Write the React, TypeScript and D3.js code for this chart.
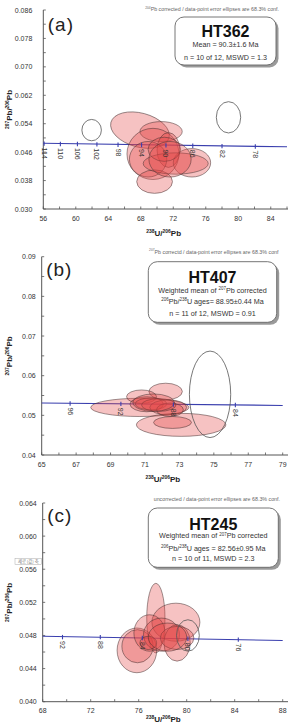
import React, { useEffect, useRef } from "react";
import * as d3 from "d3";

// ellipse rows: [238U/206Pb, 207Pb/206Pb, x half-axis, y half-axis, tilt deg]
const ht362Used = [
  [67.9, 0.0522, 3.7, 0.0048, 15],
  [70.5, 0.0518, 2.6, 0.0028, 0],
  [69.5, 0.0455, 3.2, 0.0072, 0],
  [71.4, 0.0466, 1.4, 0.0049, 0],
  [68.9, 0.044, 2.3, 0.005, 0],
  [69.7, 0.0377, 2.2, 0.0033, 0],
  [74.3, 0.043, 2.3, 0.004, 0],
  [72.3, 0.0428, 4.0, 0.003, 0],
  [70.9, 0.0468, 2.0, 0.0034, 0],
  [71.6, 0.044, 2.6, 0.005, 0],
];
const ht362Rejected = [
  [61.95, 0.0522, 1.2, 0.003, 0],
  [78.8, 0.0558, 1.5, 0.0044, 0],
];
const ht362Ages = [114, 110, 106, 102, 98, 94, 90, 86, 82, 78];
const ht362AgeX = [56.1, 58.1, 60.2, 62.6, 65.2, 68.1, 71.1, 74.4, 78.0, 82.1];
const ht362AgeY = [0.0484, 0.0483, 0.0483, 0.0482, 0.0481, 0.048, 0.0479, 0.0478, 0.0477, 0.0476];
const ht362Curve = [[56, 0.0485], [86, 0.0475]];
const ht362XTicks = [56, 60, 64, 68, 72, 76, 80, 84];
const ht362YTicks = [0.03, 0.038, 0.046, 0.054, 0.062, 0.07, 0.078, 0.086];

const ht407Used = [
  [70.7, 0.052, 2.85, 0.0023, 0],
  [73.1, 0.0476, 2.6, 0.0029, 0],
  [72.6, 0.0482, 1.1, 0.0015, 0],
  [72.2, 0.056, 0.97, 0.0021, 0],
  [70.8, 0.0547, 0.87, 0.0017, 0],
  [71.1, 0.0528, 0.97, 0.0019, 0],
  [71.35, 0.0529, 0.92, 0.0015, 0],
  [72.35, 0.052, 1.07, 0.0019, 0],
  [72.45, 0.0514, 0.78, 0.0017, 0],
  [71.8, 0.0526, 1.0, 0.0016, 0],
  [71.5, 0.0532, 1.2, 0.0022, 0],
];
const ht407Rejected = [[74.78, 0.0553, 1.2, 0.0109, 0]];
const ht407Ages = [96, 92, 88, 84];
const ht407AgeX = [66.65, 69.6, 72.65, 76.25];
const ht407AgeY = [0.053, 0.0529, 0.0527, 0.0526];
const ht407Curve = [[65, 0.0531], [79, 0.0525]];
const ht407XTicks = [65, 67, 69, 71, 73, 75, 77, 79];
const ht407YTicks = [0.04, 0.05, 0.06, 0.07, 0.08, 0.09];

const ht245Used = [
  [77.43, 0.0501, 0.76, 0.0042, 0],
  [79.1, 0.0496, 2.0, 0.0023, 0],
  [75.85, 0.0462, 1.65, 0.0027, 0],
  [75.9, 0.0467, 1.3, 0.002, 0],
  [76.9, 0.0483, 1.3, 0.0022, 0],
  [77.9, 0.0481, 1.5, 0.002, 0],
  [79.2, 0.0471, 1.1, 0.0022, 0],
  [79.2, 0.0477, 1.4, 0.0014, 0],
  [76.8, 0.0471, 0.7, 0.0008, 0],
  [78.4, 0.0478, 1.6, 0.0017, 0],
];
const ht245Rejected = [[80.1, 0.048, 0.95, 0.0019, 0]];
const ht245Ages = [92, 88, 84, 80, 76];
const ht245AgeX = [69.65, 72.8, 76.3, 80.1, 84.3];
const ht245AgeY = [0.0478, 0.0478, 0.0477, 0.0476, 0.0475];
const ht245Curve = [[68, 0.0479], [88, 0.0474]];
const ht245XTicks = [68, 72, 76, 80, 84, 88];
const ht245YTicks = [0.04, 0.044, 0.048, 0.052, 0.056, 0.06, 0.064];

// "^...^" marks superscript runs
const panels = [
  {
    tag: "(a)", name: "HT362",
    header: "^204^Pb corrected / data-point error ellipses are 68.3% conf.",
    lines: ["Mean = 90.3\u00b11.6 Ma", "n = 10 of 12, MSWD = 1.3"],
    used: ht362Used, rejected: ht362Rejected,
    ages: ht362Ages, ageX: ht362AgeX, ageY: ht362AgeY, curve: ht362Curve,
    xTicks: ht362XTicks, yTicks: ht362YTicks, xMinor: 2, yMinor: 0.004, yFmt: ".3f",
    xDom: [56, 86], yDom: [0.03, 0.086],
    left: 43.3, right: 287, top: 10, bottom: 209, yLabGap: 11,
    headerY: 11, headerX: 279, headerW: 147,
    tagY: 31, box: [175, 17, 101, 48], nameY: 37, lineY: [46.5, 60],
    xTitleY: 236,
  },
  {
    tag: "(b)", name: "HT407",
    header: "^207^Pb correctd / data-point error ellipses are 68.3% conf",
    lines: ["Weighted mean of ^207^Pb corrected", "^206^Pb/^238^U ages= 88.95\u00b10.44 Ma", "n = 11 of 12, MSWD = 0.91"],
    used: ht407Used, rejected: ht407Rejected,
    ages: ht407Ages, ageX: ht407AgeX, ageY: ht407AgeY, curve: ht407Curve,
    xTicks: ht407XTicks, yTicks: ht407YTicks, xMinor: 1, yMinor: 0.005, yFmt: ".2f",
    xDom: [65, 79], yDom: [0.04, 0.09],
    left: 41.7, right: 282.7, top: 256.7, bottom: 455, yLabGap: 6,
    headerY: 253.5, headerX: 278.5, headerW: 160,
    tagY: 276, box: [148.3, 261.7, 128.4, 60.6], nameY: 282.5, lineY: [292.5, 303.5, 316],
    xTitleY: 482,
  },
  {
    tag: "(c)", name: "HT245",
    header: "uncorrected / data-point error ellipses are 68.3% conf.",
    lines: ["Weighted mean of ^207^Pb corrected", "^206^Pb/^238^U ages = 82.56\u00b10.95 Ma", "n = 10 of 11, MSWD = 2.3"],
    used: ht245Used, rejected: ht245Rejected,
    ages: ht245Ages, ageX: ht245AgeX, ageY: ht245AgeY, curve: ht245Curve,
    xTicks: ht245XTicks, yTicks: ht245YTicks, xMinor: 2, yMinor: 0.002, yFmt: ".3f",
    xDom: [68, 88], yDom: [0.04, 0.064],
    left: 42.7, right: 282.7, top: 503, bottom: 701.7, yLabGap: 6,
    headerY: 501, headerX: 280, headerW: 138,
    tagY: 522, box: [148.3, 508, 130, 59.3], nameY: 530, lineY: [538.3, 550.5, 561],
    xTitleY: 722,
  },
];

const FONT = "'Liberation Sans', Arial, sans-serif";

function rich(sel, str, size) {
  var up = false;
  str.split("^").forEach((t, i) => {
    if (!t) { return; }
    var sup = i % 2 === 1;
    var ts = sel.append("tspan").text(t).attr("font-size", sup ? size * 0.62 : size);
    if (sup && !up) { ts.attr("dy", -size * 0.38); up = true; }
    else if (!sup && up) { ts.attr("dy", size * 0.38); up = false; }
  });
}

function drawPanel(svg, p) {
  var x = d3.scaleLinear().domain(p.xDom).range([p.left, p.right]);
  var y = d3.scaleLinear().domain(p.yDom).range([p.bottom, p.top]);
  var g = svg.append("g").attr("font-family", FONT);
  var axisCol = "#555";

  // axes
  g.append("line").attr("x1", p.left).attr("x2", p.left).attr("y1", p.top).attr("y2", p.bottom)
    .attr("stroke", axisCol).attr("stroke-width", 1);
  g.append("line").attr("x1", p.left).attr("x2", 288).attr("y1", p.bottom).attr("y2", p.bottom)
    .attr("stroke", axisCol).attr("stroke-width", 1);

  var xMinor = d3.range(p.xDom[0], p.xDom[1] + 1e-9, p.xMinor);
  g.selectAll(".xt").data(xMinor).enter().append("line")
    .attr("x1", d => x(d)).attr("x2", d => x(d))
    .attr("y1", p.bottom).attr("y2", p.bottom - 2.5)
    .attr("stroke", axisCol).attr("stroke-width", 0.8);
  var yMinor = d3.range(p.yDom[0], p.yDom[1] + 1e-9, p.yMinor);
  g.selectAll(".yt").data(yMinor).enter().append("line")
    .attr("x1", p.left).attr("x2", p.left + 2.5)
    .attr("y1", d => y(d)).attr("y2", d => y(d))
    .attr("stroke", axisCol).attr("stroke-width", 0.8);

  g.selectAll(".xl").data(p.xTicks).enter().append("text")
    .attr("x", d => x(d)).attr("y", p.bottom + 11.5)
    .attr("text-anchor", "middle").attr("font-size", 7).attr("fill", "#333")
    .text(d => d);
  g.selectAll(".yl").data(p.yTicks).enter().append("text")
    .attr("x", p.left - p.yLabGap).attr("y", d => y(d) + 2.5)
    .attr("text-anchor", "end").attr("font-size", 7).attr("fill", "#333")
    .text(d => d3.format(p.yFmt)(d));

  // axis titles
  var xt = g.append("text").attr("x", (p.left + 288) / 2 - 2).attr("y", p.xTitleY)
    .attr("text-anchor", "middle").attr("font-weight", "bold").attr("fill", "#222");
  rich(xt, "^238^U/^206^Pb", 8);
  var yt = g.append("text")
    .attr("transform", "translate(12," + (p.top + p.bottom) / 2 + ") rotate(-90)")
    .attr("text-anchor", "middle").attr("font-weight", "bold").attr("fill", "#222");
  rich(yt, "^207^Pb/^206^Pb", 8);

  // header note
  var hd = g.append("text").attr("x", p.headerX).attr("y", p.headerY)
    .attr("text-anchor", "end").attr("font-size", 5.3).attr("fill", "#666");
  rich(hd, p.header, 5.3);

  // panel tag
  g.append("text").attr("x", p.left + 4.5).attr("y", p.tagY)
    .attr("font-size", 19).attr("letter-spacing", 1).attr("fill", "#222").text(p.tag);

  // concordia
  var line = d3.line().x(d => x(d[0])).y(d => y(d[1]));
  g.append("path").attr("d", line(p.curve)).attr("fill", "none")
    .attr("stroke", "#3a3fae").attr("stroke-width", 1.1);

  // error ellipses
  var ell = (sel) => sel
    .attr("cx", d => x(d[0])).attr("cy", d => y(d[1]))
    .attr("rx", d => x(d[0] + d[2]) - x(d[0]))
    .attr("ry", d => y(d[1]) - y(d[1] + d[3]))
    .attr("transform", d => "rotate(" + d[4] + "," + x(d[0]) + "," + y(d[1]) + ")");
  g.selectAll(".used").data(p.used).enter().append("ellipse").call(ell)
    .attr("fill", "rgba(228, 70, 70, 0.33)")
    .attr("stroke", "rgba(70, 50, 50, 0.75)").attr("stroke-width", 0.7);
  g.selectAll(".rej").data(p.rejected).enter().append("ellipse").call(ell)
    .attr("fill", "none").attr("stroke", "#555").attr("stroke-width", 0.8);

  // age ticks on concordia
  var ages = p.ages.map((a, i) => [a, p.ageX[i], p.ageY[i]]);
  g.selectAll(".at").data(ages).enter().append("line")
    .attr("x1", d => x(d[1])).attr("x2", d => x(d[1]))
    .attr("y1", d => y(d[2]) - 2.2).attr("y2", d => y(d[2]) + 2.2)
    .attr("stroke", "#3a3fae").attr("stroke-width", 1.1);
  g.selectAll(".al").data(ages).enter().append("text")
    .attr("transform", d => "translate(" + x(d[1]) + "," + (y(d[2]) + 4) + ") rotate(90)")
    .attr("dominant-baseline", "central").attr("font-size", 7).attr("fill", "#333")
    .text(d => d[0]);

  // result box
  var b = p.box;
  g.append("rect").attr("x", b[0] + 2.5).attr("y", b[1] + 2.5).attr("width", b[2]).attr("height", b[3])
    .attr("rx", 9).attr("fill", "#9a9a9a");
  g.append("rect").attr("x", b[0]).attr("y", b[1]).attr("width", b[2]).attr("height", b[3])
    .attr("rx", 9).attr("fill", "#fff").attr("stroke", "#666").attr("stroke-width", 0.9);
  var cx = b[0] + b[2] / 2;
  g.append("text").attr("x", cx).attr("y", p.nameY).attr("text-anchor", "middle")
    .attr("font-size", 16).attr("font-weight", "bold").attr("fill", "#111").text(p.name);
  p.lines.forEach((s, i) => {
    var t = g.append("text").attr("x", cx).attr("y", p.lineY[i]).attr("text-anchor", "middle")
      .attr("fill", "#333");
    rich(t, s, 7.2);
  });
}

export default function App() {
  const ref = useRef(null);

  useEffect(() => {
    var svg = d3.select(ref.current);
    svg.selectAll("*").remove();
    panels.forEach(p => drawPanel(svg, p));

    // stray axis tooltip left on the last chart
    var tip = svg.append("g").attr("font-family", FONT);
    tip.append("rect").attr("x", 15).attr("y", 558.3).attr("width", 26.7).attr("height", 6)
      .attr("fill", "#fff").attr("stroke", "#aaa").attr("stroke-width", 0.5);
    tip.append("text").attr("x", 28.3).attr("y", 562.8).attr("text-anchor", "middle")
      .attr("font-size", 4.3).attr("fill", "#777").attr("font-family", "'Noto Sans CJK KR', sans-serif")
      .text("세로 (값) 축");
  }, []);

  return (
    <svg ref={ref} width={288} height={723}
      style={{ position: "absolute", left: 0, top: 0, background: "#fff" }} />
  );
}
